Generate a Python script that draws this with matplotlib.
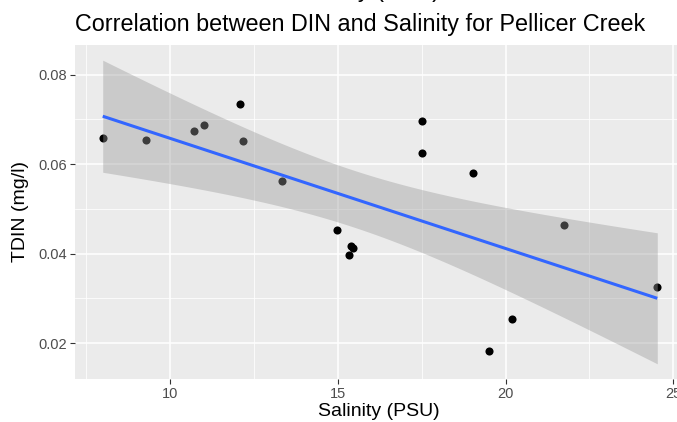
import numpy as np
import matplotlib
matplotlib.use("Agg")
import matplotlib.pyplot as plt

salinity = [8.0, 9.29, 10.71, 11.01, 12.10, 12.18, 13.35, 14.98, 15.41, 15.45, 15.33,
            17.50, 17.50, 19.02, 21.75, 24.52, 20.20, 19.52]
tdin = [0.0659, 0.0654, 0.0675, 0.0688, 0.0734, 0.0652, 0.0563, 0.0452, 0.0418, 0.0413, 0.0396,
        0.0697, 0.0625, 0.0580, 0.0465, 0.0325, 0.0254, 0.0182]
x_ticks = [10, 15, 20, 25]
y_ticks = [0.02, 0.04, 0.06, 0.08]
title_line1 = "TDIN vs Salinity (PSU)"
title_line2 = "Correlation between DIN and Salinity for Pellicer Creek"
xlabel = "Salinity (PSU)"
ylabel = "TDIN (mg/l)"

plt.rcParams['font.family'] = ['Liberation Sans', 'DejaVu Sans']

W, H = 677, 422
fig = plt.figure(figsize=(W / 100, H / 100), dpi=100)

def fx(px):
    return px / W

def fy(py):
    return 1 - py / H

left, right, top, bottom = 75, 685, 45, 379
ax = fig.add_axes([fx(left), fy(bottom), fx(right - left), fy(top) - fy(bottom)])
ax.set_facecolor('#EBEBEB')

x = np.array(salinity)
y = np.array(tdin)
n = len(x)
b1, b0 = np.polyfit(x, y, 1)
xs = np.linspace(x.min(), x.max(), 80)
yhat = b0 + b1 * xs
resid = y - (b0 + b1 * x)
s = np.sqrt(np.sum(resid ** 2) / (n - 2))
se = s * np.sqrt(1 / n + (xs - x.mean()) ** 2 / np.sum((x - x.mean()) ** 2))
tval = 2.119905
lo, hi = yhat - tval * se, yhat + tval * se

ax.scatter(x, y, s=34, color='black', zorder=3, linewidths=0)
ax.fill_between(xs, lo, hi, color='#999999', alpha=0.4, linewidth=0, zorder=4)
ax.plot(xs, yhat, color='#3366FF', lw=2.2, zorder=5, solid_capstyle='butt')

xr = x.max() - x.min()
ax.set_xlim(x.min() - 0.05 * xr, x.max() + 0.05 * xr)
ymin, ymax = min(y.min(), lo.min()), max(y.max(), hi.max())
yr = ymax - ymin
ax.set_ylim(ymin - 0.05 * yr, ymax + 0.05 * yr)

ax.set_xticks(x_ticks)
ax.set_yticks(y_ticks)
ax.set_xticks([7.5, 12.5, 17.5, 22.5], minor=True)
ax.set_yticks([0.03, 0.05, 0.07], minor=True)
ax.set_xticklabels([str(v) for v in x_ticks])
ax.set_yticklabels([f"{v:.2f}" for v in y_ticks])
ax.grid(which='major', color='white', lw=1.1, zorder=0)
ax.grid(which='minor', color='white', lw=0.55, zorder=0)
ax.set_axisbelow(True)
for sp in ax.spines.values():
    sp.set_visible(False)
ax.tick_params(which='major', length=3.5, width=0.8, color='#333333', labelsize=10.5,
               labelcolor='#4D4D4D', pad=2.5)
ax.tick_params(which='minor', length=0)

fig.text(fx(21), fy(212), ylabel, rotation=90, ha='center', va='center', fontsize=14, color='black')
fig.text(fx(379), fy(403), xlabel, ha='center', va='top', fontsize=14, color='black')
fig.text(fx(440), fy(-3), title_line1, ha='right', va='baseline', fontsize=16.8, color='black')
fig.text(fx(75), fy(31), title_line2, ha='left', va='baseline', fontsize=16.8, color='black')

fig.savefig('out.png', dpi=100)
